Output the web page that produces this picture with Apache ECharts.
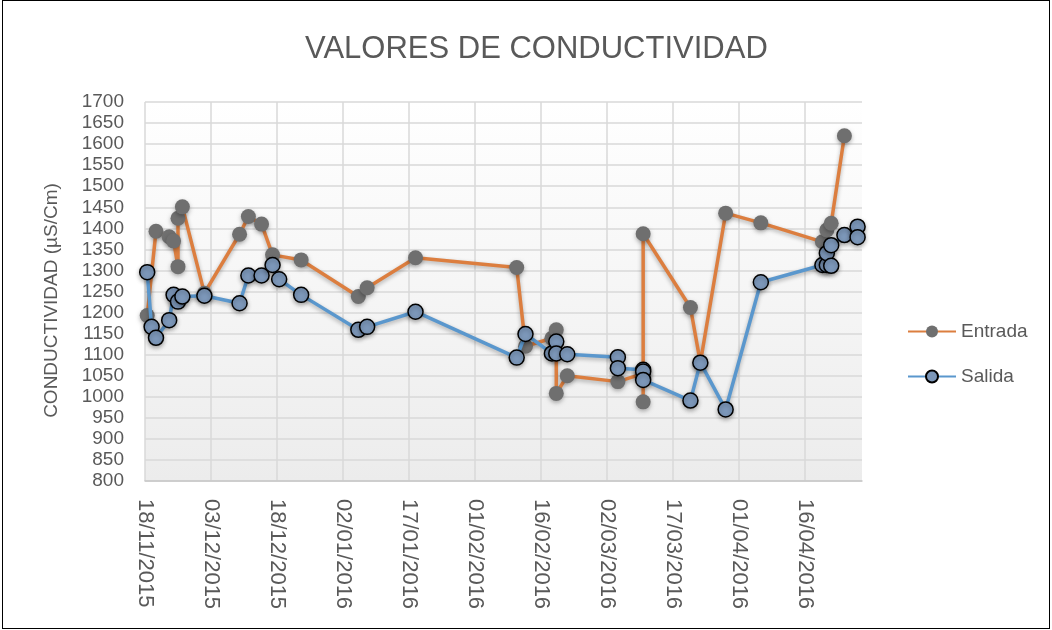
<!DOCTYPE html>
<html>
<head>
<meta charset="utf-8">
<script src="https://cdn.jsdelivr.net/npm/echarts@6/dist/echarts.min.js"></script>
<style>
  html, body { margin: 0; padding: 0; background: #fff; }
  #chart { width: 1052px; height: 630px; }
  #frame { position: absolute; left: 2px; top: 0px; width: 1046px; height: 627px; border: 1px solid #000; box-sizing: content-box; pointer-events: none; }
</style>
</head>
<body>
<div id="chart"></div>
<div id="frame"></div>
<script>
// fechas y valores
const startDate = '2015-11-18'
const endDate = '2016-04-29'
const entradaDates = [
  '2015-11-18 12:00', '2015-11-20 12:00', '2015-11-23 12:00', '2015-11-24 12:00', '2015-11-25 12:00',
  '2015-11-25 12:00', '2015-11-26 12:00', '2015-12-01 12:00', '2015-12-09 12:00', '2015-12-11 12:00',
  '2015-12-14 12:00', '2015-12-17 00:00', '2015-12-23 12:00', '2016-01-05 12:00', '2016-01-07 12:00',
  '2016-01-18 12:00', '2016-02-10 12:00', '2016-02-12 12:00', '2016-02-18 12:00', '2016-02-19 12:00',
  '2016-02-19 12:00', '2016-02-22 00:00', '2016-03-04 12:00', '2016-03-10 06:00', '2016-03-10 06:00',
  '2016-03-10 06:00', '2016-03-21 00:00', '2016-03-23 06:00', '2016-03-29 00:00', '2016-04-06 00:00',
  '2016-04-20 00:00', '2016-04-21 00:00', '2016-04-22 00:00', '2016-04-25 00:00'
]
const entradaValues = [
  1193, 1393, 1380, 1370, 1309,
  1424, 1451, 1246, 1386, 1428,
  1410, 1337, 1325, 1238, 1259,
  1330, 1307, 1120, 1139, 1159,
  1008, 1050, 1036, 1055, 988,
  1387, 1212, 1081, 1436, 1413,
  1368, 1396, 1412, 1620
]
const salidaDates = [
  '2015-11-18 12:00', '2015-11-19 12:00', '2015-11-20 12:00', '2015-11-23 12:00', '2015-11-24 12:00',
  '2015-11-25 12:00', '2015-11-26 12:00', '2015-12-01 12:00', '2015-12-09 12:00', '2015-12-11 12:00',
  '2015-12-14 12:00', '2015-12-17 00:00', '2015-12-18 12:00', '2015-12-23 12:00', '2016-01-05 12:00',
  '2016-01-07 12:00', '2016-01-18 12:00', '2016-02-10 12:00', '2016-02-12 12:00', '2016-02-18 12:00',
  '2016-02-19 12:00', '2016-02-19 12:00', '2016-02-22 00:00', '2016-03-04 12:00', '2016-03-04 12:00',
  '2016-03-10 06:00', '2016-03-10 06:00', '2016-03-10 06:00', '2016-03-21 00:00', '2016-03-23 06:00',
  '2016-03-29 00:00', '2016-04-06 00:00', '2016-04-20 00:00', '2016-04-21 00:00', '2016-04-21 00:00',
  '2016-04-22 00:00', '2016-04-22 00:00', '2016-04-25 00:00', '2016-04-28 00:00', '2016-04-28 00:00'
]
const salidaValues = [
  1296, 1166, 1140, 1182, 1242,
  1226, 1238, 1240, 1222, 1288,
  1288, 1313, 1279, 1242, 1159,
  1166, 1202, 1093, 1149, 1103,
  1131, 1103, 1101, 1094, 1068,
  1064, 1060, 1040, 991, 1081,
  970, 1272, 1313, 1313, 1341,
  1311, 1360, 1384, 1404, 1379
]
const yTicks = { min: 800, max: 1700, step: 50 }
const dayStep = 15

const DAY = 86400000
const toUtc = s => {
  const [d, t] = s.split(' ')
  const [y, m, dd] = d.split('-').map(Number)
  const [hh, mm] = (t || '00:00').split(':').map(Number)
  return Date.UTC(y, m - 1, dd, hh, mm)
}
const t0 = toUtc(startDate)
const toDay = s => (toUtc(s) - t0) / DAY
const maxDay = toDay(endDate)
const pad = n => (n < 10 ? '0' : '') + n
const dayLabel = v => {
  const d = new Date(t0 + Math.round(v) * DAY)
  return pad(d.getUTCDate()) + '/' + pad(d.getUTCMonth() + 1) + '/' + d.getUTCFullYear()
}

const entradaData = entradaDates.map((d, i) => [toDay(d), entradaValues[i]])
const salidaData = salidaDates.map((d, i) => [toDay(d), salidaValues[i]])

const txt = '#595959'
const font = 'Liberation Sans'
const nLines = Math.floor(maxDay / dayStep) + 1
const vColors = []
for (let i = 0; i < nLines; i++) vColors.push('#d9d9d9')
vColors.push('rgba(0,0,0,0)')

const chart = echarts.init(document.getElementById('chart'), null, { renderer: 'canvas' })
const option = {
  animation: false,
  backgroundColor: '#fff',
  title: {
    text: 'VALORES DE CONDUCTIVIDAD',
    left: 300,
    top: 29,
    textStyle: { color: txt, fontSize: 31, fontWeight: 'normal', fontFamily: font }
  },
  legend: {
    orient: 'vertical',
    left: 902,
    top: 317,
    itemWidth: 48,
    itemHeight: 15,
    itemGap: 26,
    textStyle: { color: txt, fontSize: 19, fontFamily: font },
    data: ['Entrada', 'Salida']
  },
  grid: {
    left: 145,
    right: 190,
    top: 102,
    bottom: 149,
    show: true,
    borderWidth: 0,
    backgroundColor: {
      type: 'linear', x: 0, y: 0, x2: 0, y2: 1,
      colorStops: [{ offset: 0, color: '#ffffff' }, { offset: 1, color: '#ececec' }]
    }
  },
  xAxis: {
    type: 'value',
    min: 0,
    max: maxDay,
    interval: dayStep,
    axisLine: { show: true, lineStyle: { color: '#c8c8c8', width: 1.5 } },
    axisTick: { show: false },
    axisLabel: {
      rotate: -90,
      margin: 18,
      color: txt,
      fontSize: 22,
      fontFamily: font,
      showMaxLabel: false,
      formatter: dayLabel
    },
    splitLine: { show: true, lineStyle: { color: vColors, width: 1.5 } }
  },
  yAxis: {
    type: 'value',
    min: yTicks.min,
    max: yTicks.max,
    interval: yTicks.step,
    name: 'CONDUCTIVIDAD (µS/Cm)',
    nameLocation: 'middle',
    nameGap: 84,
    nameTextStyle: { color: txt, fontSize: 19, fontFamily: font, padding: [0, 18, 0, 0] },
    axisLine: { show: false },
    axisTick: { show: false },
    axisLabel: { color: txt, fontSize: 19, fontFamily: font, margin: 21, formatter: v => String(v) },
    splitLine: { show: true, lineStyle: { color: '#d9d9d9', width: 1.5 } }
  },
  series: [
    {
      name: 'Entrada',
      type: 'line',
      data: entradaData,
      symbol: 'circle',
      symbolSize: 15,
      color: '#6f6f6f',
      lineStyle: {
        color: '#dc7e3f', width: 3.5,
        shadowColor: 'rgba(0,0,0,0.3)', shadowBlur: 4, shadowOffsetY: 2
      },
      itemStyle: {
        color: '#6f6f6f', borderWidth: 0,
        shadowColor: 'rgba(0,0,0,0.3)', shadowBlur: 4, shadowOffsetY: 2
      },
      z: 2
    },
    {
      name: 'Salida',
      type: 'line',
      data: salidaData,
      symbol: 'circle',
      symbolSize: 15,
      color: '#7c97b9',
      lineStyle: {
        color: '#5a97cd', width: 3.5,
        shadowColor: 'rgba(0,0,0,0.3)', shadowBlur: 4, shadowOffsetY: 2
      },
      itemStyle: {
        color: '#7c97b9', borderColor: '#000', borderWidth: 1.5,
        shadowColor: 'rgba(0,0,0,0.3)', shadowBlur: 4, shadowOffsetY: 2
      },
      z: 3
    }
  ]
}
chart.setOption(option)
</script>
</body>
</html>
